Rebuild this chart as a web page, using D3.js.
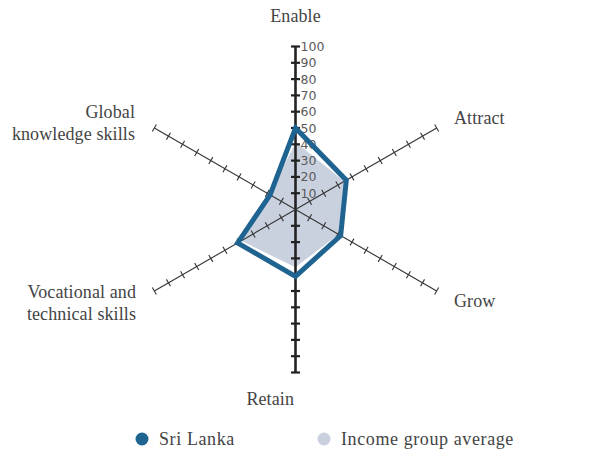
<!DOCTYPE html>
<html>
<head>
<meta charset="utf-8">
<script src="https://cdn.jsdelivr.net/npm/d3@7"></script>
<style>
  body { margin: 0; background: #fff; }
  .lbl { font-family: "Liberation Serif", serif; font-size: 18px; fill: #444; letter-spacing: 0.1px; }
  .tick-lbl { font-family: "DejaVu Sans", sans-serif; font-size: 12.5px; fill: #5a5a5a; }
</style>
</head>
<body>
<svg id="chart" width="601" height="453"></svg>
<script>
const axes = ["Enable", "Attract", "Grow", "Retain", "Vocational and technical skills", "Global knowledge skills"];
const sriLanka = [50, 36, 32, 41, 41, 18];
const incomeAvg = [42, 35, 31, 36, 39, 19];
const tickValues = [10, 20, 30, 40, 50, 60, 70, 80, 90, 100];
const seriesNames = ["Sri Lanka", "Income group average"];

const cx = 295.5, cy = 209.5, R = 163;
const colors = { sri: "#1f6391", avg: "#c9d1df" };

const svg = d3.select("#chart");
const g = svg.append("g").attr("transform", `translate(${cx},${cy})`);

const r = d3.scaleLinear().domain([0, 100]).range([0, R]);
const angle = d3.scaleLinear().domain([0, axes.length]).range([0, 2 * Math.PI]);

const radial = vals => d3.lineRadial()
    .angle((d, i) => angle(i))
    .radius(d => r(d))
    .curve(d3.curveLinearClosed)(vals);

// income group fill
g.append("path")
    .attr("d", radial(incomeAvg))
    .attr("fill", colors.avg)
    .attr("stroke", "#fff")
    .attr("stroke-width", 1.5);

// axes
axes.forEach((name, i) => {
    const a = angle(i) - Math.PI / 2;
    const ux = Math.cos(a), uy = Math.sin(a);
    const vertical = Math.abs(ux) < 1e-6;
    g.append("line")
        .attr("x1", 0).attr("y1", 0)
        .attr("x2", ux * R).attr("y2", uy * R)
        .attr("stroke", vertical ? "#222" : "#333")
        .attr("stroke-width", vertical ? 2.6 : 1.1);
    tickValues.forEach(v => {
        const px = ux * r(v), py = uy * r(v);
        const tl = vertical ? 4.5 : 4;
        g.append("line")
            .attr("x1", px - uy * tl).attr("y1", py + ux * tl)
            .attr("x2", px + uy * tl).attr("y2", py - ux * tl)
            .attr("stroke", vertical ? "#222" : "#333")
            .attr("stroke-width", vertical ? 2.2 : 1.1);
    });
});

// tick labels on Enable axis
g.selectAll(".tick-lbl")
    .data(tickValues)
    .enter().append("text")
    .attr("class", "tick-lbl")
    .attr("x", 5)
    .attr("y", d => -r(d))
    .attr("dy", "0.36em")
    .text(d => d);

// Sri Lanka line
g.append("path")
    .attr("d", radial(sriLanka))
    .attr("fill", "none")
    .attr("stroke", colors.sri)
    .attr("stroke-width", 5)
    .attr("stroke-linejoin", "miter");

// axis labels
const labelPos = [
    { x: 0, y: -R - 24.5, anchor: "middle" },
    { x: 158.5, y: -85.5, anchor: "start" },
    { x: 158.5, y: 97.5, anchor: "start" },
    { x: -1.5, y: 195.5, anchor: "end" },
    { x: -159.5, y: 88.5, anchor: "end" },
    { x: -160.5, y: -91.5, anchor: "end" }
];
const wrap = { "Vocational and technical skills": ["Vocational and", "technical skills"],
               "Global knowledge skills": ["Global", "knowledge skills"] };

axes.forEach((name, i) => {
    const p = labelPos[i];
    const t = g.append("text")
        .attr("class", "lbl")
        .attr("text-anchor", p.anchor)
        .attr("x", p.x).attr("y", p.y);
    const lines = wrap[name] || [name];
    lines.forEach((ln, j) => {
        t.append("tspan").attr("x", p.x).attr("dy", j === 0 ? 0 : 22).text(ln);
    });
});

// legend
const legend = svg.append("g").attr("transform", "translate(142,439)");
const legendX = d3.scalePoint().domain(seriesNames).range([0, 182]);
seriesNames.forEach((s, i) => {
    const lg = legend.append("g").attr("transform", `translate(${legendX(s)},0)`);
    lg.append("circle").attr("r", 6.5).attr("fill", i === 0 ? colors.sri : colors.avg);
    lg.append("text").attr("class", "lbl").attr("x", 17).attr("y", 6)
        .style("letter-spacing", "0.6px").text(s);
});
</script>
</body>
</html>
